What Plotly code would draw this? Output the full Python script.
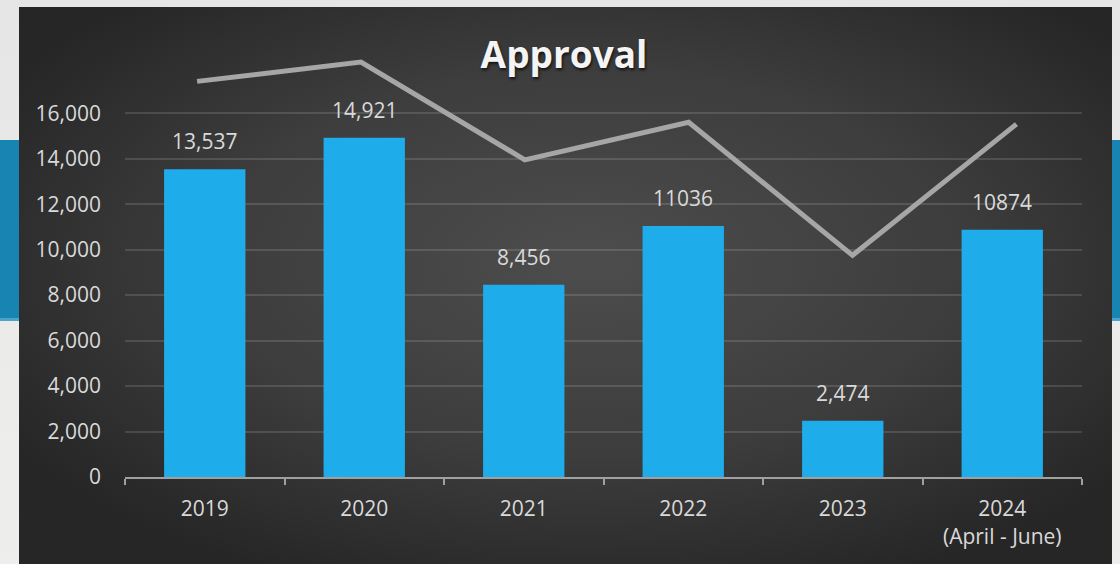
import base64
import plotly.graph_objects as go

# ---- data ----
years = ["2019", "2020", "2021", "2022", "2023", "2024"]
tick_labels = ["2019", "2020", "2021", "2022", "2023", "2024<br>(April - June)"]
approvals = [13537, 14921, 8456, 11036, 2474, 10874]
approval_labels = ["13,537", "14,921", "8,456", "11036", "2,474", "10874"]
trend = [17400, 18250, 13950, 15600, 9750, 15520]
y_ticks = [0, 2000, 4000, 6000, 8000, 10000, 12000, 14000, 16000]

# ---- background art (page, blue band, dark gradient panel) ----
W, H = 1120, 564
ml, mr, mt, mb = 125, 38, 45, 87
pw, ph = W - ml - mr, H - mt - mb
svg = f"""<svg xmlns='http://www.w3.org/2000/svg' width='{W}' height='{H}' viewBox='0 0 {W} {H}' preserveAspectRatio='none'>
<defs>
<radialGradient id='pan' cx='0.52' cy='0.45' r='0.62'>
<stop offset='0' stop-color='#4d4d4d'/>
<stop offset='0.55' stop-color='#3d3d3d'/>
<stop offset='1' stop-color='#262626'/>
</radialGradient>
<linearGradient id='pg' x1='0' y1='0' x2='0' y2='1'>
<stop offset='0' stop-color='#e6e6e6'/>
<stop offset='1' stop-color='#eeeeec'/>
</linearGradient>
</defs>
<rect width='{W}' height='{H}' fill='url(#pg)'/>
<rect x='0' y='140' width='{W}' height='180' fill='#1784b1'/>
<rect x='0' y='318' width='{W}' height='3' fill='#4aa3c8'/>
<rect x='19' y='7' width='1093' height='{H}' fill='url(#pan)'/>
</svg>"""
img_src = "data:image/svg+xml;base64," + base64.b64encode(svg.encode()).decode()

FONT = "Open Sans"
LBL = "#d9d9d9"

fig = go.Figure()
fig.add_trace(go.Bar(
    x=years, y=approvals,
    marker=dict(color="#1eaceb", line=dict(width=0)),
    width=0.51, hoverinfo="skip", showlegend=False,
))
fig.add_trace(go.Scatter(
    x=years, y=trend, xaxis="x2", mode="lines",
    line=dict(color="#a6a6a6", width=5),
    hoverinfo="skip", showlegend=False,
))

# data labels (category axis: position by category index)
for i, (yv, t) in enumerate(zip(approvals, approval_labels)):
    fig.add_annotation(x=i, y=yv, xref="x", yref="y", text=t, showarrow=False,
                       yanchor="bottom", yshift=12,
                       font=dict(family=FONT, size=21, color=LBL))

fig.update_layout(
    width=W, height=H,
    margin=dict(l=ml, r=mr, t=mt, b=mb, pad=0),
    paper_bgcolor="#e8e8e8",
    plot_bgcolor="rgba(0,0,0,0)",
    images=[dict(source=img_src, xref="paper", yref="paper",
                 x=-ml / pw, y=1 + mt / ph, sizex=W / pw, sizey=H / ph,
                 xanchor="left", yanchor="top", sizing="stretch", layer="below")],
    title=dict(text="<b>Approval</b>", xref="container", yref="container",
               x=564 / W, y=1 - 55 / H, xanchor="center", yanchor="middle",
               font=dict(family=FONT, size=37, color="#f4f4f4",
                         shadow="1px 2px 3px rgba(0,0,0,0.7)")),
    xaxis=dict(type="category", categoryorder="array", categoryarray=years,
               tickvals=years, ticktext=tick_labels,
               range=[-0.5, 5.5],
               showline=True, linecolor="#a0a0a0", linewidth=2,
               ticks="outside", tickson="boundaries", ticklen=6, tickwidth=2,
               tickcolor="#a0a0a0", showgrid=False, ticklabelstandoff=12,
               tickfont=dict(family=FONT, size=21, color=LBL)),
    xaxis2=dict(type="category", categoryorder="array", categoryarray=years,
                overlaying="x", range=[-0.44, 5.40], visible=False),
    yaxis=dict(range=[0, 19000], tickvals=y_ticks, tickformat=",",
               showgrid=True, gridcolor="rgba(255,255,255,0.13)", gridwidth=2,
               zeroline=False, showline=False, ticks="",
               ticklabelstandoff=23,
               tickfont=dict(family=FONT, size=21, color=LBL)),
    bargap=0.49,
)

fig.write_html("out.html", config={"displayModeBar": False})
